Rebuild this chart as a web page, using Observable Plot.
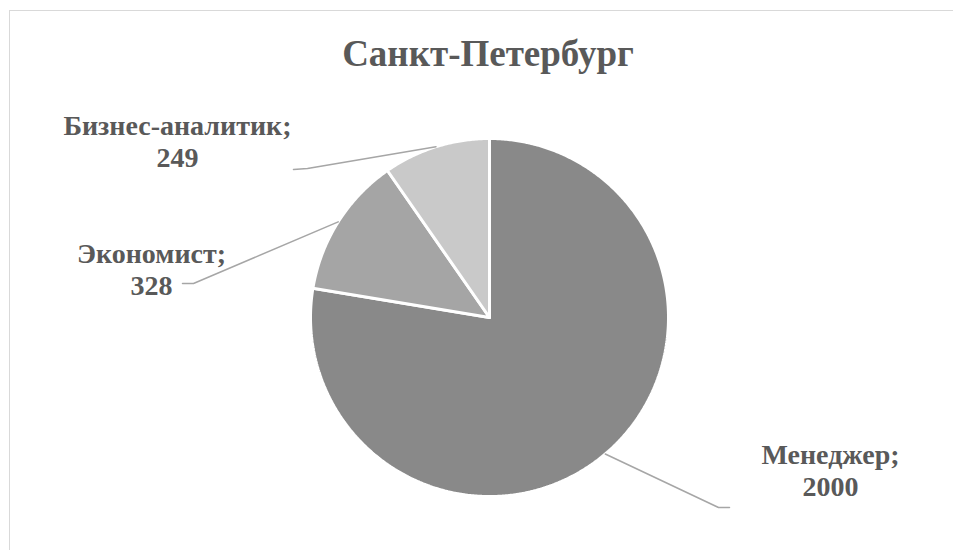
<!DOCTYPE html>
<html><head><meta charset="utf-8">
<script src="https://cdn.jsdelivr.net/npm/d3@7"></script>
<script src="https://cdn.jsdelivr.net/npm/@observablehq/plot@0.6"></script>
<style>
html,body{margin:0;padding:0;background:#fff;}
body{width:953px;height:550px;overflow:hidden;position:relative;font-family:"Liberation Serif","Times New Roman",serif;}
#frame{position:absolute;left:9px;top:10px;width:960px;height:560px;border-top:1.5px solid #d9d9d9;border-left:1.5px solid #d9d9d9;}
#chart{position:absolute;left:0;top:0;}
#title{position:absolute;left:0;top:35px;width:976px;text-align:center;font-size:37px;line-height:37px;font-weight:bold;color:#595959;}
</style>
</head><body>
<div id="frame"></div>
<div id="chart"></div>
<div id="title">Санкт-Петербург</div>
<script>
// Data
const categories = ["Менеджер", "Экономист", "Бизнес-аналитик"];
const values = [2000, 328, 249];
const sliceColors = ["#898989", "#a5a5a5", "#c9c9c9"];

// Layout (pixels)
const W = 953, H = 550, CX = 489, CY = 317, R = 179;
const labelCenter = [[830, 469], [151, 268], [177, 140]];
const labelElbow = [[[718, 507], [729, 507]], [[193, 283], [182, 283]], [[307, 168], [293, 169]]];

const ux = px => (px - CX) / R;
const uy = py => (CY - py) / R;

const pie = d3.pie().sort(null).value(d => d.value);
const arcs = pie(categories.map((name, i) => ({name, value: values[i], color: sliceColors[i]})));

function slicePoints(a) {
  const pts = [{x: 0, y: 0}];
  const n = Math.max(8, Math.ceil((a.endAngle - a.startAngle) / (Math.PI / 360)));
  for (let k = 0; k <= n; k++) {
    const t = a.startAngle + (a.endAngle - a.startAngle) * k / n;
    pts.push({x: Math.sin(t), y: Math.cos(t)});
  }
  pts.push({x: 0, y: 0});
  return pts;
}

const marks = [];
arcs.forEach(a => {
  marks.push(Plot.line(slicePoints(a), {x: "x", y: "y", fill: a.data.color, stroke: "white", strokeWidth: 3, strokeLinejoin: "miter"}));
});
arcs.forEach((a, i) => {
  const m = (a.startAngle + a.endAngle) / 2;
  const pts = [{x: Math.sin(m), y: Math.cos(m)}, ...labelElbow[i].map(([px, py]) => ({x: ux(px), y: uy(py)}))];
  marks.push(Plot.line(pts, {x: "x", y: "y", stroke: "#a6a6a6", strokeWidth: 1.5}));
});
marks.push(Plot.text(arcs.map((a, i) => ({
  label: `${a.data.name};\n${a.data.value}`,
  x: ux(labelCenter[i][0]), y: uy(labelCenter[i][1])
})), {
  x: "x", y: "y", text: "label", textAnchor: "middle", lineAnchor: "middle", lineHeight: 1.14,
  fontSize: 28, fontWeight: "bold", fill: "#595959", fontFamily: "Liberation Serif"
}));

const chart = Plot.plot({
  width: W, height: H,
  margin: 0,
  style: {background: "transparent", overflow: "visible"},
  x: {type: "linear", domain: [ux(0), ux(W)], range: [0, W], axis: null},
  y: {type: "linear", domain: [uy(H), uy(0)], range: [H, 0], axis: null},
  marks
});
document.getElementById("chart").appendChild(chart);
</script>
</body></html>
